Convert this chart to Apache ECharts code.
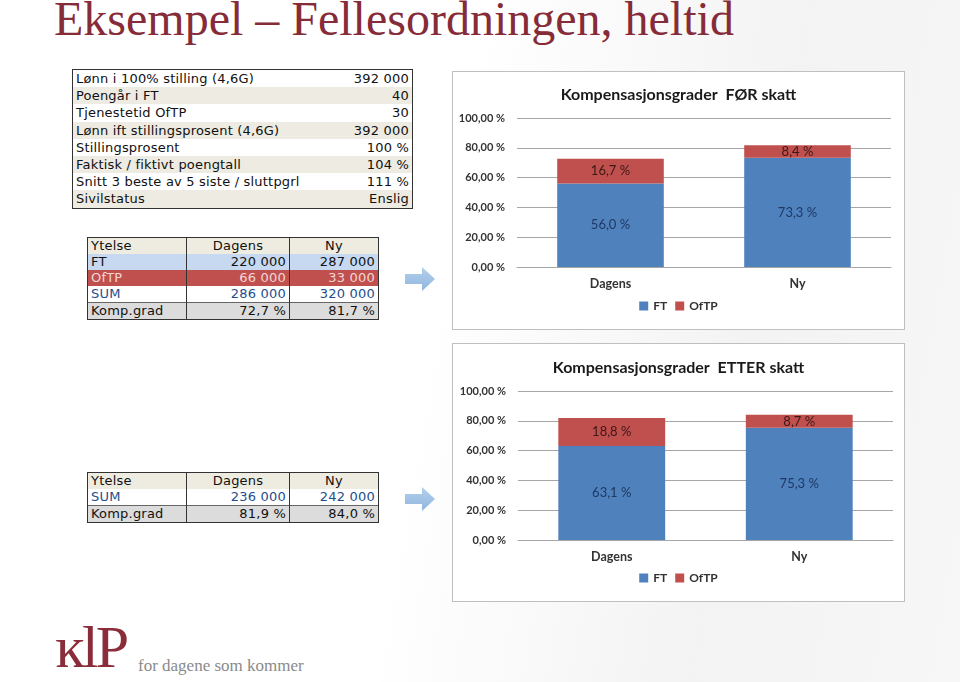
<!DOCTYPE html>
<html><head><meta charset="utf-8">
<script src="https://cdn.jsdelivr.net/npm/echarts@6/dist/echarts.min.js"></script>
<style>
html,body{margin:0;padding:0;}
body{width:960px;height:682px;position:relative;overflow:hidden;background:linear-gradient(100deg,#ffffff 0%,#ffffff 45%,#f3f3f3 75%,#f7f7f7 100%);font-family:"DejaVu Sans",sans-serif;}
#title{position:absolute;left:54px;top:-9px;font-family:"Liberation Serif",serif;font-size:48px;color:#862C39;white-space:nowrap;}
table{border-collapse:collapse;position:absolute;font-size:13px;letter-spacing:0.2px;color:#111;}
td{padding:0 3px;height:16px;line-height:16px;white-space:nowrap;}
#t1{left:72px;top:69px;width:341px;border:1px solid #333;}
#t1 td{height:17.2px;line-height:17px;}
#t1 tr:nth-child(even){background:#EDEBE2;}
#t1 tr:nth-child(odd){background:#ffffff;}
#t1 td:last-child{text-align:right;}
.t2{left:87px;width:292px;border:1px solid #333;}
.t2 td{border-left:1px solid #333;border-right:1px solid #333;}
.t2 td:nth-child(2),.t2 td:nth-child(3){text-align:right;}
.t2 tr.h td:nth-child(2),.t2 tr.h td:nth-child(3){text-align:center;}
.t2 tr.h{background:#EEECE1;}
.t2 tr.ft{background:#C6D9F1;}
.t2 tr.of{background:#C0504D;color:#F4D6D5;}
.t2 tr.sum{background:#fff;color:#1F4E8C;}
.t2 tr.kg{background:#DCDCDC;border-top:1px solid #666;}
.arrow{position:absolute;left:405px;width:30px;height:24px;}
.box{position:absolute;left:452px;width:451px;height:257px;border:1px solid #BFBFBF;background:#fff;}
#logo{position:absolute;left:55px;top:613px;font-family:"Liberation Serif",serif;font-size:60px;color:#8B2C3B;letter-spacing:-3px;}
#tag{position:absolute;left:138px;top:656px;font-family:"Liberation Serif",serif;font-size:17px;color:#8a8a8a;}
</style></head>
<body>
<div id="title">Eksempel – Fellesordningen, heltid</div>
<table id="t1"></table>
<table id="t2" class="t2" style="top:237px"></table>
<table id="t3" class="t2" style="top:472px"></table>
<svg class="arrow" style="top:267px" viewBox="0 0 30 24"><defs><linearGradient id="ag" x1="0" y1="0" x2="0" y2="1"><stop offset="0" stop-color="#B4D0EC"/><stop offset="1" stop-color="#8FB6DE"/></linearGradient></defs><polygon points="0,7 17,7 17,0 30,12 17,24 17,17 0,17" fill="url(#ag)"/></svg>
<svg class="arrow" style="top:487px" viewBox="0 0 30 24"><polygon points="0,7 17,7 17,0 30,12 17,24 17,17 0,17" fill="url(#ag)"/></svg>
<div id="c1" class="box" style="top:71px"></div>
<div id="c2" class="box" style="top:343px"></div>
<div id="logo">ĸlP</div>
<div id="tag">for dagene som kommer</div>
<script>
// ---- data ----
const profileLabels = ['Lønn i 100% stilling (4,6G)','Poengår i FT','Tjenestetid OfTP','Lønn ift stillingsprosent (4,6G)','Stillingsprosent','Faktisk / fiktivt poengtall','Snitt 3 beste av 5 siste / sluttpgrl','Sivilstatus'];
const profileValues = ['392 000','40','30','392 000','100 %','104 %','111 %','Enslig'];
const tableHeader = ['Ytelse','Dagens','Ny'];
const beforeRows = [['FT','220 000','287 000','ft'],['OfTP','66 000','33 000','of'],['SUM','286 000','320 000','sum'],['Komp.grad','72,7 %','81,7 %','kg']];
const afterRows = [['SUM','236 000','242 000','sum'],['Komp.grad','81,9 %','84,0 %','kg']];
const categories = ['Dagens','Ny'];
const forFT = [56.0, 73.3];
const forOfTP = [16.7, 8.4];
const etterFT = [63.1, 75.3];
const etterOfTP = [18.8, 8.7];

// ---- tables ----
document.getElementById('t1').innerHTML = profileLabels.map((l,i)=>'<tr><td>'+l+'</td><td>'+profileValues[i]+'</td></tr>').join('');
function buildTable(id, rows){
  let h = '<tr class="h"><td style="width:92px">'+tableHeader[0]+'</td><td style="width:96px">'+tableHeader[1]+'</td><td>'+tableHeader[2]+'</td></tr>';
  h += rows.map(r=>'<tr class="'+r[3]+'"><td>'+r[0]+'</td><td>'+r[1]+'</td><td>'+r[2]+'</td></tr>').join('');
  document.getElementById(id).innerHTML = h;
}
buildTable('t2', beforeRows);
buildTable('t3', afterRows);

// ---- charts ----
const BLUE = '#4F81BD', RED = '#C0504D';
const fmt = v => v.toFixed(1).replace('.', ',') + ' %';
function makeChart(el, title, ft, oftp, grid, titleTop, legendBottom){
  const chart = echarts.init(document.getElementById(el), null, {renderer:'canvas'});
  chart.setOption({
    animation:false,
    color:[BLUE, RED],
    title:{text:title,left:'center',top:titleTop,textStyle:{fontFamily:'Lato',fontWeight:'bold',fontSize:16,color:'#1a1a1a'}},
    legend:{bottom:legendBottom,left:'center',itemWidth:9,itemHeight:9,itemGap:8,icon:'rect',
      textStyle:{fontFamily:'Lato',fontWeight:'bold',fontSize:12,color:'#333'},data:['FT','OfTP']},
    grid:grid,
    xAxis:{type:'category',data:categories,axisTick:{show:false},
      axisLine:{lineStyle:{color:'#A6A6A6'}},
      axisLabel:{margin:10,fontFamily:'Lato',fontWeight:'bold',fontSize:12.5,color:'#333'}},
    yAxis:{type:'value',min:0,max:100,interval:20,
      axisLabel:{margin:12,fontFamily:'Lato',fontWeight:'bold',fontSize:11,color:'#333',
        formatter:v=>v.toFixed(2).replace('.', ',')+' %'},
      splitLine:{lineStyle:{color:'#A6A6A6'}}},
    series:[
      {name:'FT',type:'bar',stack:'s',data:ft,barWidth:'57%',
        label:{show:true,position:'inside',formatter:p=>fmt(p.value),fontFamily:'Lato',fontSize:13,color:'#1F3864'}},
      {name:'OfTP',type:'bar',stack:'s',data:oftp,barWidth:'57%',
        label:{show:true,position:'inside',formatter:p=>fmt(p.value),fontFamily:'Lato',fontSize:13,color:'#3A1818'}}
    ]
  });
}
makeChart('c1','Kompensasjonsgrader  FØR skatt', forFT, forOfTP, {left:64,right:13,top:46,bottom:62}, 10, 12);
makeChart('c2','Kompensasjonsgrader  ETTER skatt', etterFT, etterOfTP, {left:65,right:11,top:47,bottom:61}, 11, 12);
</script>
</body></html>
